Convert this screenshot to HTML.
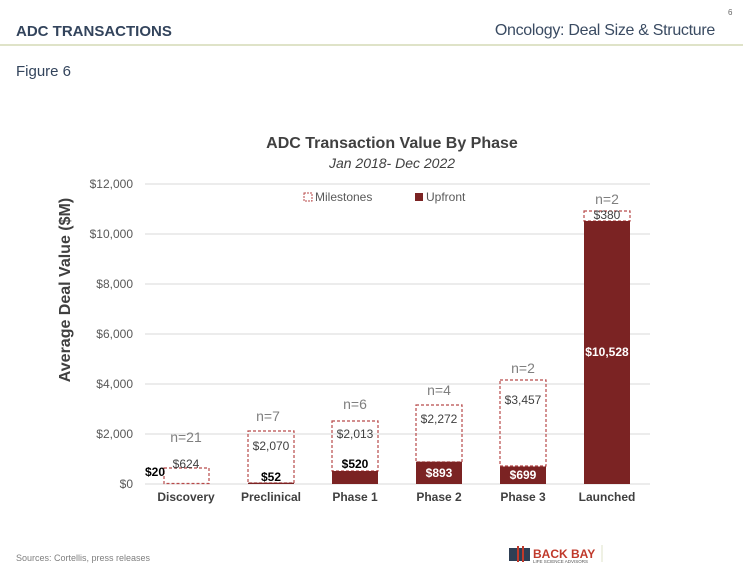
<!DOCTYPE html>
<html><head><style>
body{margin:0;width:743px;height:570px;background:#fff;font-family:"Liberation Sans",sans-serif;position:relative;overflow:hidden}
.t{position:absolute;white-space:nowrap}
</style></head><body>
<div class="t" style="left:16px;top:23px;font-size:15px;font-weight:bold;color:#33445c">ADC TRANSACTIONS</div>
<div class="t" style="right:28px;top:22px;font-size:16px;color:#3a4b62;letter-spacing:-0.3px">Oncology: Deal Size &amp; Structure</div>
<div class="t" style="left:728px;top:8px;font-size:8px;color:#666">6</div>
<div style="position:absolute;left:0;top:44px;width:743px;height:2px;background:#dfe3c8"></div>
<div class="t" style="left:16px;top:63px;font-size:15px;color:#33445c">Figure 6</div>
<svg width="743" height="570" style="position:absolute;left:0;top:0" font-family="Liberation Sans, sans-serif">
<g stroke="#d9d9d9" stroke-width="1">
<line x1="145" x2="650" y1="184" y2="184"/><line x1="145" x2="650" y1="234" y2="234"/>
<line x1="145" x2="650" y1="284" y2="284"/><line x1="145" x2="650" y1="334" y2="334"/>
<line x1="145" x2="650" y1="384" y2="384"/><line x1="145" x2="650" y1="434" y2="434"/>
<line x1="145" x2="650" y1="484" y2="484"/></g>
<g font-size="12" fill="#595959" text-anchor="end">
<text x="133" y="188">$12,000</text><text x="133" y="238">$10,000</text><text x="133" y="288">$8,000</text>
<text x="133" y="338">$6,000</text><text x="133" y="388">$4,000</text><text x="133" y="438">$2,000</text><text x="133" y="488">$0</text></g>
<text transform="translate(70,290) rotate(-90)" text-anchor="middle" font-size="16" font-weight="bold" fill="#404040">Average Deal Value ($M)</text>
<text x="392" y="148" text-anchor="middle" font-size="16" font-weight="bold" fill="#404040">ADC Transaction Value By Phase</text>
<text x="392" y="168" text-anchor="middle" font-size="14" font-style="italic" fill="#404040">Jan 2018- Dec 2022</text>
<rect x="304" y="193" width="8" height="8" fill="none" stroke="#b84a4a" stroke-dasharray="2,1"/>
<text x="315" y="201" font-size="12" fill="#595959">Milestones</text>
<rect x="415" y="193" width="8" height="8" fill="#7b2323"/>
<text x="426" y="201" font-size="12" fill="#595959">Upfront</text>
<g fill="none" stroke="#b84a4a" stroke-width="1.2" stroke-dasharray="3,2">
<rect x="164" y="468" width="45" height="15.5"/>
<rect x="248" y="431" width="46" height="52"/>
<rect x="332" y="421" width="46" height="50"/>
<rect x="416" y="405" width="46" height="57"/>
<rect x="500" y="380" width="46" height="86"/>
<rect x="584" y="211" width="46" height="10"/>
</g>
<g fill="#7b2323">
<rect x="248" y="482.7" width="46" height="1.3"/>
<rect x="332" y="471" width="46" height="13"/>
<rect x="416" y="461.7" width="46" height="22.3"/>
<rect x="500" y="466.5" width="46" height="17.5"/>
<rect x="584" y="221" width="46" height="263"/>
</g>
<g font-size="12" fill="#404040" text-anchor="middle">
<text x="186" y="468">$624</text><text x="155" y="476" font-weight="bold" fill="#000">$20</text>
<text x="271" y="450">$2,070</text><text x="271" y="481" font-weight="bold" fill="#000">$52</text>
<text x="355" y="438">$2,013</text><text x="355" y="468" font-weight="bold" fill="#000">$520</text>
<text x="439" y="423">$2,272</text><text x="439" y="477" font-weight="bold" fill="#fff">$893</text>
<text x="523" y="404">$3,457</text><text x="523" y="479" font-weight="bold" fill="#fff">$699</text>
<text x="607" y="219">$380</text><text x="607" y="356" font-weight="bold" fill="#fff">$10,528</text>
</g>
<g font-size="14" fill="#7f7f7f" text-anchor="middle">
<text x="186" y="442">n=21</text><text x="268" y="421">n=7</text><text x="355" y="409">n=6</text>
<text x="439" y="395">n=4</text><text x="523" y="373">n=2</text><text x="607" y="204">n=2</text></g>
<g font-size="12" font-weight="bold" fill="#404040" text-anchor="middle">
<text x="186" y="501">Discovery</text><text x="271" y="501">Preclinical</text><text x="355" y="501">Phase 1</text>
<text x="439" y="501">Phase 2</text><text x="523" y="501">Phase 3</text><text x="607" y="501">Launched</text></g>
<text x="16" y="561" font-size="9" fill="#7f7f7f">Sources: Cortellis, press releases</text>
<rect x="509" y="548" width="21" height="13" fill="#2e3f55"/>
<rect x="517" y="546" width="2" height="16" fill="#c0392b"/><rect x="522" y="546" width="2" height="16" fill="#c0392b"/>
<text x="533" y="558" font-size="12" font-weight="bold" fill="#c0392b">BACK BAY</text>
<text x="533" y="563" font-size="4.5" fill="#555">LIFE SCIENCE ADVISORS</text>
<line x1="602" y1="545" x2="602" y2="562" stroke="#dfe3c8"/>
</svg>
</body></html>
